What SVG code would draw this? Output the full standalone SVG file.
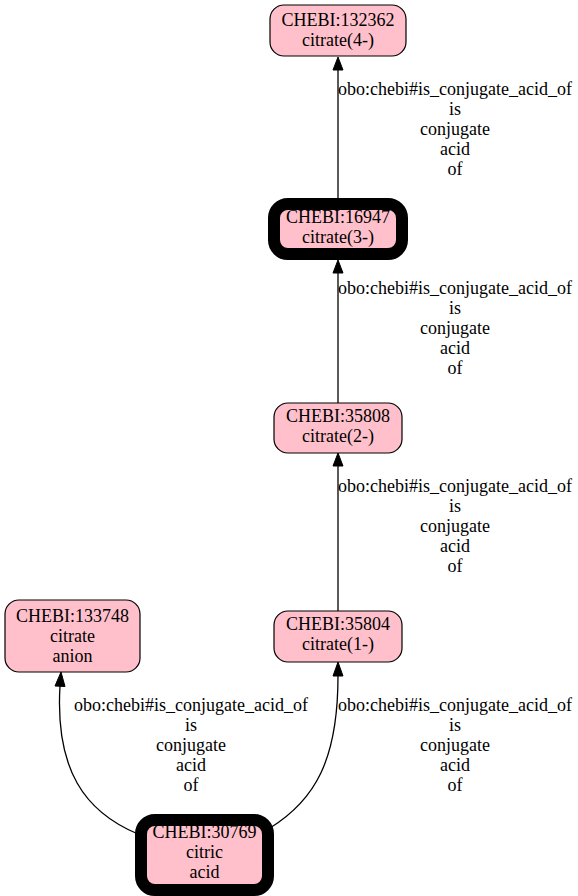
<svg xmlns="http://www.w3.org/2000/svg" width="578" height="896" viewBox="0 0 578 896">
<style>
.node rect{fill:#ffc0cb;stroke:#000;stroke-width:1.2}
.node.bold rect{stroke-width:12}
text{font-family:"Liberation Serif","Times New Roman",serif;font-size:18px;fill:#000;text-anchor:middle}
.edges path{fill:none;stroke:#000;stroke-width:1.3}
.edges polygon{fill:#000;stroke:#000;stroke-width:1}
</style>
<rect width="578" height="896" fill="#fff"/>
<g class="edges" id="connectors">
<g id="e1"><path d="M338,198 L338,70"/><polygon points="338,57 333,70 343,70"/>
<text x="455" y="95">obo:chebi#is_conjugate_acid_of</text><text x="455" y="115">is</text><text x="455" y="135">conjugate</text><text x="455" y="155">acid</text><text x="455" y="175">of</text></g>
<g id="e2"><path d="M338,403 L338,273"/><polygon points="338,260 333,273 343,273"/>
<text x="455" y="294">obo:chebi#is_conjugate_acid_of</text><text x="455" y="314">is</text><text x="455" y="334">conjugate</text><text x="455" y="354">acid</text><text x="455" y="374">of</text></g>
<g id="e3"><path d="M338,611 L338,466"/><polygon points="338,453 333,466 343,466"/>
<text x="455" y="492">obo:chebi#is_conjugate_acid_of</text><text x="455" y="512">is</text><text x="455" y="532">conjugate</text><text x="455" y="552">acid</text><text x="455" y="572">of</text></g>
<g id="e4"><path d="M270,828 C315,800 338,760 338,676"/><polygon points="338,662 333,676 343,676"/>
<text x="455" y="711">obo:chebi#is_conjugate_acid_of</text><text x="455" y="731">is</text><text x="455" y="751">conjugate</text><text x="455" y="771">acid</text><text x="455" y="791">of</text></g>
<g id="e5"><path d="M138,834 C85,812 55,770 60,686"/><polygon points="61,672 55,686 65,686.5"/>
<text x="191" y="711">obo:chebi#is_conjugate_acid_of</text><text x="191" y="731">is</text><text x="191" y="751">conjugate</text><text x="191" y="771">acid</text><text x="191" y="791">of</text></g>
</g>
<g class="node" id="n132362"><rect x="270" y="5" width="136" height="51" rx="14"/><text x="338" y="26">CHEBI:132362</text><text x="338" y="46">citrate(4-)</text></g>
<g class="node bold" id="n16947"><rect x="274" y="204" width="128" height="50" rx="14"/><text x="338" y="223">CHEBI:16947</text><text x="338" y="243">citrate(3-)</text></g>
<g class="node" id="n35808"><rect x="274" y="403" width="128" height="50" rx="14"/><text x="338" y="422">CHEBI:35808</text><text x="338" y="442">citrate(2-)</text></g>
<g class="node" id="n35804"><rect x="274" y="611" width="128" height="51" rx="14"/><text x="338" y="630">CHEBI:35804</text><text x="338" y="650">citrate(1-)</text></g>
<g class="node" id="n133748"><rect x="5" y="600" width="135" height="72" rx="14"/><text x="72.5" y="622">CHEBI:133748</text><text x="72.5" y="642">citrate</text><text x="72.5" y="662">anion</text></g>
<g class="node bold" id="n30769"><rect x="141" y="820" width="127" height="70" rx="14"/><text x="204.5" y="838">CHEBI:30769</text><text x="204.5" y="858">citric</text><text x="204.5" y="878">acid</text></g>
</svg>
